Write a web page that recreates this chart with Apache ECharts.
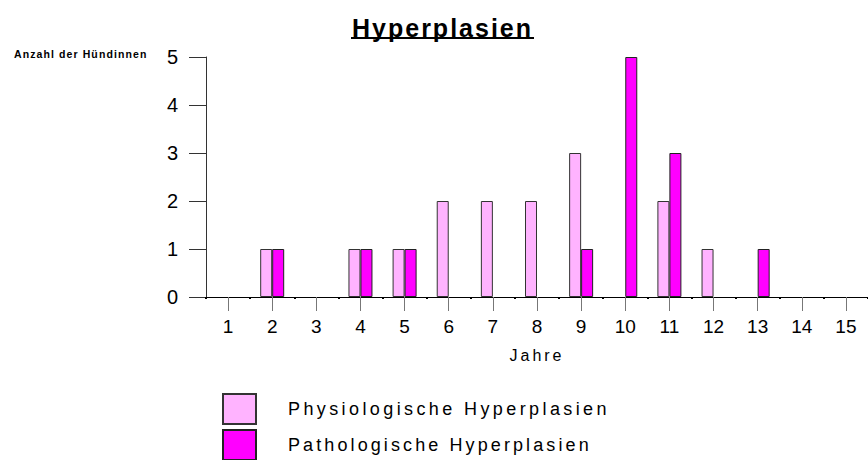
<!DOCTYPE html>
<html>
<head>
<meta charset="utf-8">
<script src="https://cdn.jsdelivr.net/npm/echarts@6/dist/echarts.min.js"></script>
<style>
  html, body { margin: 0; padding: 0; background: #fff; }
  #chart { width: 868px; height: 460px; }
</style>
</head>
<body>
<div id="chart"></div>
<script>
// Jahre 1..15
const years = ['1', '2', '3', '4', '5', '6', '7', '8', '9', '10', '11', '12', '13', '14', '15']
const physiologisch = [0, 1, 0, 1, 1, 2, 2, 2, 3, 0, 2, 1, 0, 0, 0]
const pathologisch = [0, 1, 0, 1, 1, 0, 0, 0, 1, 5, 3, 0, 1, 0, 0]
const seriesNames = ['Physiologische Hyperplasien', 'Pathologische Hyperplasien']

const font = 'Liberation Sans, Arial, sans-serif'
// Nullwerte nicht als flache Balken zeichnen
const hideZero = arr => arr.map(v => (v === 0 ? '-' : v))

const legendText = { fontFamily: font, fontSize: 18, color: '#000', padding: [0, 0, 0, 27] }
const chart = echarts.init(document.getElementById('chart'), null, { renderer: 'svg' })

chart.setOption({
  animation: false,
  title: {
    text: 'Hyperplasien',
    left: 347,
    top: 10,
    textStyle: { fontFamily: font, fontSize: 25, fontWeight: 'bold', color: '#000' }
  },
  graphic: [
    // Unterstreichung des Titels
    { type: 'line', shape: { x1: 351, y1: 38, x2: 534, y2: 38 }, style: { stroke: '#000', lineWidth: 2 } },
    {
      type: 'text', left: 14, top: 48,
      style: { text: 'Anzahl der Hündinnen', fontFamily: font, fontSize: 10.5, fontWeight: 'bold', fill: '#000' }
    }
  ],
  legend: [{
    left: 217,
    top: 388,
    icon: 'rect',
    itemWidth: 33,
    itemHeight: 30,
    selectedMode: false,
    textStyle: legendText,
    data: [seriesNames[0]]
  }, {
    left: 217,
    top: 424,
    icon: 'rect',
    itemWidth: 33,
    itemHeight: 30,
    selectedMode: false,
    textStyle: legendText,
    data: [seriesNames[1]]
  }],
  grid: { left: 206, right: -1, top: 57, bottom: 163, containLabel: false },
  xAxis: [{
    type: 'category',
    data: years,
    name: 'Jahre',
    nameLocation: 'middle',
    nameGap: 50,
    nameTextStyle: { fontFamily: font, fontSize: 16, color: '#000' },
    axisLine: { show: true, lineStyle: { color: '#000', width: 1 } },
    axisTick: { show: true, alignWithLabel: true, length: 14, lineStyle: { color: '#777' } },
    axisLabel: { fontFamily: font, fontSize: 19, color: '#000', margin: 20 }
  }, {
    // kleine Punkte an den Kategoriegrenzen
    type: 'category',
    data: years,
    position: 'bottom',
    axisLine: { show: false },
    axisTick: { show: true, alignWithLabel: false, length: 2, lineStyle: { color: '#000', width: 2 } },
    axisLabel: { show: false }
  }],
  yAxis: {
    type: 'value',
    min: 0,
    max: 5,
    interval: 1,
    splitLine: { show: false },
    axisLine: { show: true, lineStyle: { color: '#333' } },
    axisTick: { show: true, length: 17, lineStyle: { color: '#333' } },
    axisLabel: { fontFamily: font, fontSize: 20, color: '#000', margin: 28 }
  },
  series: [{
    name: seriesNames[0],
    type: 'bar',
    data: hideZero(physiologisch),
    barWidth: 12,
    barGap: '0%',
    itemStyle: { color: '#FFB3FF', borderColor: '#333', borderWidth: 1 }
  }, {
    name: seriesNames[1],
    type: 'bar',
    data: hideZero(pathologisch),
    barWidth: 12,
    itemStyle: { color: '#FF00FF', borderColor: '#222', borderWidth: 1 }
  }]
})

// gesperrte Schrift wie im Original
const spacing = {
  'Hyperplasien': '2px',
  'Anzahl der Hündinnen': '1.1px',
  'Jahre': '3px',
  [seriesNames[0]]: '3.4px',
  [seriesNames[1]]: '3.1px'
}
document.querySelectorAll('#chart text').forEach(t => {
  const s = spacing[t.textContent]
  if (s) t.style.letterSpacing = s
})
</script>
</body>
</html>
